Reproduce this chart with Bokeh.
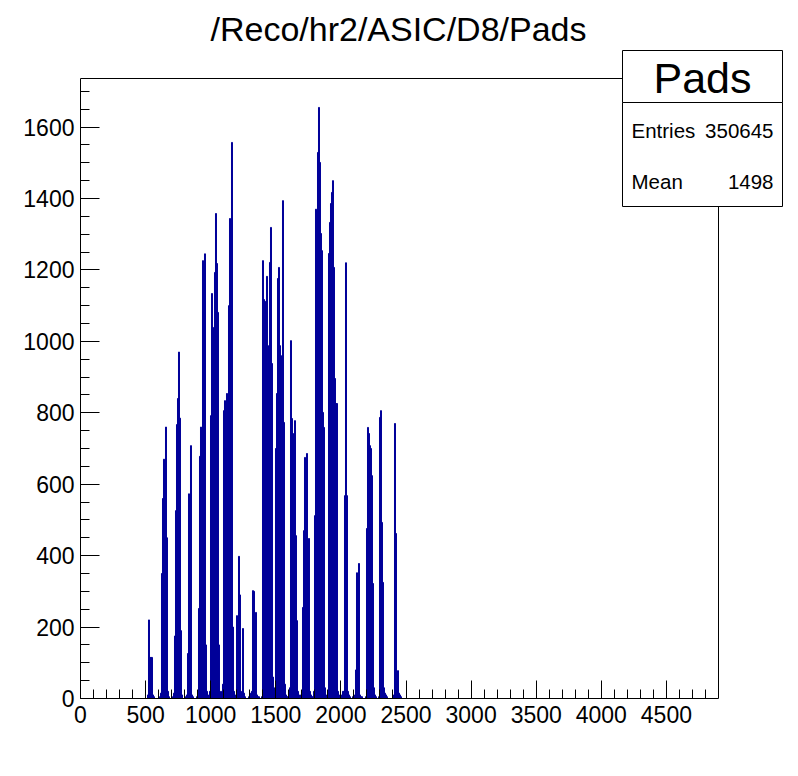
from bokeh.plotting import figure
from bokeh.models import Range1d, FixedTicker, Label, BoxAnnotation
from bokeh.embed import file_html
from bokeh.resources import INLINE

# ---- histogram data (bins) ----
x_min, x_max = 0, 4900          # histogram axis range
y_max = 1736                    # histogram maximum shown (1.05 x peak)
first_edge = 491.5
bin_width = 7.68
counts = [
    0, 0, 0, 10, 220, 115, 115, 115, 10, 5, 0, 0, 0, 0, 0, 5,
    15, 350, 560, 670, 270, 760, 450, 20, 5, 0, 0, 0, 5, 15, 175, 526,
    767, 840, 970, 785, 190, 10, 0, 0, 0, 5, 10, 126, 573, 115, 708, 10,
    5, 0, 0, 0, 5, 10, 252, 678, 760, 386, 1226, 1081, 1245, 150, 20, 10,
    5, 20, 792, 1134, 1039, 1025, 1193, 1358, 1218, 1081, 150, 20, 10, 20, 40, 806,
    834, 700, 854, 560, 1100, 1344, 1000, 1557, 200, 20, 10, 5, 232, 30, 398, 290,
    20, 10, 196, 15, 5, 0, 0, 0, 5, 10, 15, 20, 302, 300, 70, 241,
    10, 5, 5, 0, 0, 5, 1226, 1117, 834, 1112, 1182, 904, 988, 1221, 1319, 938,
    60, 20, 30, 700, 854, 1176, 1207, 988, 960, 500, 1394, 773, 40, 10, 5, 5,
    10, 30, 1002, 784, 742, 456, 778, 456, 218, 20, 10, 5, 10, 20, 255, 470,
    675, 300, 686, 386, 448, 20, 10, 5, 5, 20, 512, 1370, 1232, 1529, 1655, 1501,
    1302, 1254, 801, 759, 30, 10, 5, 20, 1246, 1333, 1386, 1417, 1450, 1207, 896, 826,
    826, 20, 10, 5, 5, 10, 20, 20, 568, 1220, 568, 20, 10, 5, 0, 0,
    5, 10, 5, 80, 352, 227, 378, 10, 5, 5, 0, 0, 0, 5, 476, 759,
    742, 708, 700, 624, 322, 30, 10, 5, 0, 0, 5, 787, 806, 493, 325, 30,
    15, 10, 5, 0, 0, 0, 0, 0, 5, 10, 770, 462, 20, 78, 15, 10,
    5, 0,
]
x_major = [0, 500, 1000, 1500, 2000, 2500, 3000, 3500, 4000, 4500]
x_minor = [v for v in range(0, 4900, 100) if v % 500 != 0]
y_major = [0, 200, 400, 600, 800, 1000, 1200, 1400, 1600]
y_minor = [v for v in range(0, 1750, 50) if v % 200 != 0]

title_text = "/Reco/hr2/ASIC/D8/Pads"
stats_name = "Pads"
stats_rows = [("Entries", "350645"), ("Mean", "1498")]

lefts = [first_edge + i * bin_width for i in range(len(counts))]
rights = [l + bin_width for l in lefts]

FONT = "Liberation Sans"

# canvas layout: the plotting frame is stretched over the area that holds the
# title and the statistics box so that these annotations are not clipped;
# the histogram axes are limited to the histogram range with `bounds`.
W, H = 790, 768
FL, FR, FT, FB = 80, 790, 0, 698          # frame edges in canvas px
HL, HR, HT = 80, 718, 78                  # histogram box edges in canvas px
x_view_end = x_min + (x_max - x_min) * (FR - FL) / (HR - HL)
y_view_end = y_max * (FB - FT) / (FB - HT)

p = figure(width=W, height=H, output_backend="svg", toolbar_location=None,
           x_range=Range1d(x_min, x_view_end), y_range=Range1d(0, y_view_end),
           min_border_left=FL, min_border_right=W - FR, min_border_top=FT,
           min_border_bottom=H - FB, background_fill_color="white",
           border_fill_color="white")
p.xgrid.visible = False
p.ygrid.visible = False
p.outline_line_color = None

p.quad(left=lefts, right=rights, bottom=0, top=counts,
       fill_color="#000099", line_color="#000099", line_width=1)

for ax, maj, mnr, tick, bnd in ((p.xaxis[0], x_major, x_minor, 18, (x_min, x_max)),
                                (p.yaxis[0], y_major, y_minor, 19, (0, y_max))):
    ax.ticker = FixedTicker(ticks=maj, minor_ticks=mnr)
    ax.bounds = bnd
    ax.major_tick_in = tick
    ax.major_tick_out = 0
    ax.minor_tick_in = 9
    ax.minor_tick_out = 0
    ax.axis_line_color = "black"
    ax.major_tick_line_color = "black"
    ax.minor_tick_line_color = "black"
    ax.major_label_text_font = FONT
    ax.major_label_text_font_size = "23px"
    ax.major_label_text_color = "black"
p.xaxis.major_label_standoff = 7
p.yaxis.major_label_standoff = 6

# histogram frame (top and right edges)
p.add_layout(BoxAnnotation(left=x_min, right=x_max, bottom=0, top=y_max,
                           fill_alpha=0, line_color="black", line_width=1,
                           line_alpha=1, level="overlay"))


def sx(px):
    return px - FL


def sy(py):
    return FB - py


# title
p.add_layout(Label(x=sx(398), y=sy(28), x_units="screen", y_units="screen",
                   text=title_text, text_align="center", text_baseline="middle",
                   text_font=FONT, text_font_size="34px", text_color="black"))

# statistics box
for top, bottom in ((50, 102), (102, 206)):
    p.add_layout(BoxAnnotation(left=sx(622), right=sx(782), top=sy(top), bottom=sy(bottom),
                               left_units="screen", right_units="screen",
                               top_units="screen", bottom_units="screen",
                               fill_color="white", fill_alpha=1, line_color="black",
                               line_width=1, line_alpha=1, level="overlay"))
p.add_layout(Label(x=sx(702), y=sy(77), x_units="screen", y_units="screen",
                   text=stats_name, text_align="center", text_baseline="middle",
                   text_font=FONT, text_font_size="43px", text_color="black",
                   level="overlay"))
for (name, val), py in zip(stats_rows, (130, 181)):
    p.add_layout(Label(x=sx(631), y=sy(py), x_units="screen", y_units="screen",
                       text=name, text_align="left", text_baseline="middle",
                       text_font=FONT, text_font_size="20.5px", text_color="black",
                       level="overlay"))
    p.add_layout(Label(x=sx(773), y=sy(py), x_units="screen", y_units="screen",
                       text=val, text_align="right", text_baseline="middle",
                       text_font=FONT, text_font_size="20.5px", text_color="black",
                       level="overlay"))

open("out.html", "w").write(file_html(p, INLINE))
